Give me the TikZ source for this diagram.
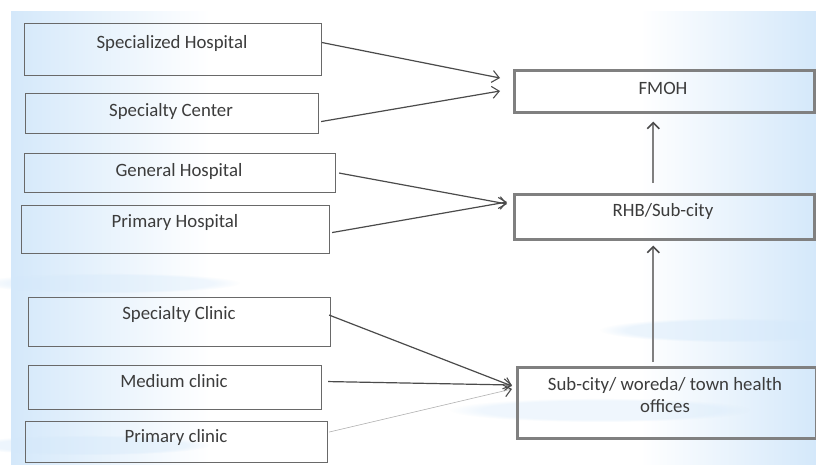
\documentclass[tikz,border=0pt]{standalone}
\usepackage{fontspec}
\setmainfont{Carlito}
\usetikzlibrary{arrows.meta,fadings}
\definecolor{bgblue}{RGB}{212,232,250}
\definecolor{boxgray}{RGB}{105,105,105}
\definecolor{rboxgray}{RGB}{128,128,128}
\definecolor{linegray}{RGB}{75,75,75}
\definecolor{txtgray}{RGB}{60,60,60}
\tikzset{
  lbox/.style={draw=boxgray, line width=1.1pt, inner sep=0pt, anchor=north west},
  rbox/.style={draw=rboxgray, line width=2.6pt, inner sep=0pt, anchor=north west},
  btext/.style={text=txtgray, font=\fontsize{18.8}{22}\selectfont, inner sep=0pt, align=center},
  conn/.style={draw=linegray, line width=1.2pt, -{Straight Barb[length=7pt,width=12pt,line width=1.1pt]}},
  thinconn/.style={draw=gray!60, line width=0.6pt, -{Straight Barb[length=7pt,width=12pt,line width=1.1pt,linegray]}},
  vconn/.style={draw=rboxgray, line width=2pt, -{Straight Barb[length=6pt,width=12pt,line width=1.6pt,linegray]}}
}
\begin{document}
\begin{tikzpicture}[x=1pt,y=-1pt]
\useasboundingbox (0,0) rectangle (816,464);
\fill[white] (0,0) rectangle (816,464);
% background
\shade[left color=bgblue, right color=white] (11,11) rectangle (210,464);
\shade[left color=white, right color=bgblue] (640,11) rectangle (816,464);
\fill[bgblue, opacity=0.45, path fading=circle with fuzzy edge 20 percent] (730,330) ellipse (130 and 12);
\fill[bgblue, opacity=0.35, path fading=circle with fuzzy edge 20 percent] (110,283) ellipse (130 and 10);
\fill[bgblue, opacity=0.4, path fading=circle with fuzzy edge 20 percent] (90,445) ellipse (120 and 10);
\fill[bgblue, opacity=0.35, path fading=circle with fuzzy edge 20 percent] (600,410) ellipse (150 and 12);

% left boxes
\node[lbox, minimum width=297pt, minimum height=52pt] (sh) at (24,23) {};
\node[lbox, minimum width=293pt, minimum height=40pt] (sc) at (25,93) {};
\node[lbox, minimum width=311pt, minimum height=39pt] (gh) at (24,153) {};
\node[lbox, minimum width=308pt, minimum height=48pt] (ph) at (21,205) {};
\node[lbox, minimum width=302pt, minimum height=49pt] (scl) at (28,297) {};
\node[lbox, minimum width=293pt, minimum height=44pt] (mc) at (28,365) {};
\node[lbox, minimum width=302pt, minimum height=41pt] (pc) at (25,421) {};

\node[btext] (sht) at (172,43) {Specialized Hospital};
\node[btext] (sct) at (171,111) {Specialty Center};
\node[btext] (ght) at (179,171) {General Hospital};
\node[btext] (pht) at (175,222) {Primary Hospital};
\node[btext] (sclt) at (179,314) {Specialty Clinic};
\node[btext] (mct) at (174,381) {Medium clinic};
\node[btext] (pct) at (176,437) {Primary clinic};

% right boxes
\node[rbox, minimum width=300pt, minimum height=42pt] (fmoh) at (513,69) {};
\node[rbox, minimum width=300pt, minimum height=45pt] (rhb) at (513,193) {};
\node[rbox, minimum width=299pt, minimum height=71pt] (sub) at (516,366) {};

\node[btext] (fmoht) at (663,88) {FMOH};
\node[btext] (rhbt) at (663,211) {RHB/Sub-city};
\node[btext] (subt) at (665,395) {Sub-city/ woreda/ town health\\offices};

% arrow targets
\coordinate (f1) at (500,78);
\coordinate (f2) at (500,91);
\coordinate (r1) at (507,204);
\coordinate (r2) at (507,202);
\coordinate (s1) at (512,386);
\coordinate (s2) at (512,385);
\coordinate (s3) at (512,389);

\draw[conn] ([yshift=7pt]sh.east) -- (f1);
\draw[conn] ([xshift=2pt,yshift=-8pt]sc.east) -- (f2);
\draw[conn] ([xshift=3pt]gh.east) -- (r1);
\draw[conn] ([xshift=2pt,yshift=-3pt]ph.east) -- (r2);
\draw[conn] ([xshift=-2pt,yshift=7pt]scl.east) -- (s1);
\draw[conn] ([xshift=6pt,yshift=6pt]mc.east) -- (s2);
\draw[thinconn] ([xshift=1pt,yshift=10pt]pc.east) -- (s3);

\draw[vconn] ([xshift=-11pt,yshift=10pt]rhb.north) -- ([xshift=-11pt,yshift=-8pt]fmoh.south);
\draw[vconn] ([xshift=-13.5pt,yshift=4pt]sub.north) -- ([xshift=-11pt,yshift=-5pt]rhb.south);
\end{tikzpicture}
\end{document}
